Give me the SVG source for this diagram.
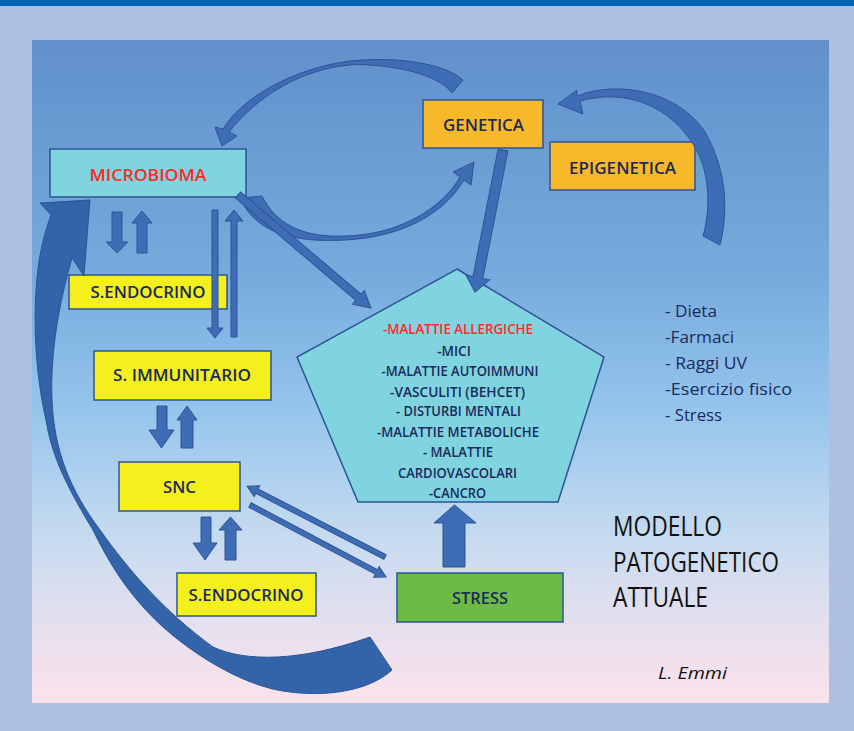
<svg xmlns="http://www.w3.org/2000/svg" width="854" height="731" viewBox="0 0 854 731">
<style>
.box{stroke:#2f5496;stroke-width:1.5}
.cyan{fill:#7fd4df}
.yel{fill:#f4f01e}
.org{fill:#f7b92a}
.grn{fill:#6cbb45}
.t{font-family:"Open Sans","Liberation Sans",sans-serif;fill:#1c2a5c;text-anchor:middle;font-weight:600}
.n{font-size:17px}
.p{font-size:13.5px}
.red{fill:#ff2a2a}
.arr{fill:#3e6db5;stroke:#2c5597;stroke-width:1}
.dark{fill:#3363a8}
.side{font-family:"Open Sans","Liberation Sans",sans-serif;fill:#1c2a5c;font-size:16.5px;font-weight:500}
.title{font-family:"Open Sans","Liberation Sans",sans-serif;fill:#111;font-size:27px}
</style>
<defs>
<linearGradient id="bg" x1="0" y1="0" x2="0" y2="1">
<stop offset="0" stop-color="#6190cb"/>
<stop offset="0.35" stop-color="#76aadc"/>
<stop offset="0.55" stop-color="#93c4ec"/>
<stop offset="0.75" stop-color="#c6dbf0"/>
<stop offset="0.9" stop-color="#e9e0ee"/>
<stop offset="1" stop-color="#fbe2ea"/>
</linearGradient>
</defs>
<rect x="0" y="0" width="854" height="731" fill="#adc0e4"/>
<rect x="0" y="0" width="854" height="6" fill="#0066b3"/>
<rect x="32" y="40" width="797" height="663" fill="url(#bg)"/>

<g id="microbioma"><rect class="box cyan" x="50" y="149" width="196" height="48"/><text class="t n red" x="148" y="181" textLength="117" lengthAdjust="spacingAndGlyphs">MICROBIOMA</text></g>
<g id="sendocrino1"><rect class="box yel" x="69" y="275" width="158" height="34"/><text class="t n" x="148" y="298" textLength="115" lengthAdjust="spacingAndGlyphs">S.ENDOCRINO</text></g>
<g id="simmunitario"><rect class="box yel" x="94" y="351" width="177" height="49"/><text class="t n" x="182" y="381" textLength="138" lengthAdjust="spacingAndGlyphs">S. IMMUNITARIO</text></g>
<g id="snc"><rect class="box yel" x="119" y="462" width="121" height="49"/><text class="t n" x="179.5" y="493" textLength="33" lengthAdjust="spacingAndGlyphs">SNC</text></g>
<g id="sendocrino2"><rect class="box yel" x="177" y="573" width="139" height="43"/><text class="t n" x="246" y="601" textLength="115" lengthAdjust="spacingAndGlyphs">S.ENDOCRINO</text></g>
<g id="genetica"><rect class="box org" x="423" y="100" width="120" height="48"/><text class="t n" x="483.5" y="131" textLength="81" lengthAdjust="spacingAndGlyphs">GENETICA</text></g>
<g id="epigenetica"><rect class="box org" x="550" y="142" width="145" height="48"/><text class="t n" x="622.5" y="174" textLength="107" lengthAdjust="spacingAndGlyphs">EPIGENETICA</text></g>
<g id="stress"><rect class="box grn" x="397" y="573" width="166" height="49"/><text class="t n" x="480" y="604" textLength="56" lengthAdjust="spacingAndGlyphs">STRESS</text></g>
<g id="malattie">
<polygon class="box cyan" points="457,269 604,357 558,502 358,502 297,357"/>
<text class="t p red" x="458" y="334" textLength="150" lengthAdjust="spacingAndGlyphs">-MALATTIE ALLERGICHE</text>
<text class="t p" x="454" y="356">-MICI</text>
<text class="t p" x="460" y="376" textLength="157" lengthAdjust="spacingAndGlyphs">-MALATTIE AUTOIMMUNI</text>
<text class="t p" x="457.5" y="397" textLength="135" lengthAdjust="spacingAndGlyphs">-VASCULITI  (BEHCET)</text>
<text class="t p" x="458.5" y="416" textLength="125" lengthAdjust="spacingAndGlyphs">- DISTURBI MENTALI</text>
<text class="t p" x="458" y="437" textLength="162" lengthAdjust="spacingAndGlyphs">-MALATTIE METABOLICHE</text>
<text class="t p" x="458" y="457" textLength="70" lengthAdjust="spacingAndGlyphs">- MALATTIE</text>
<text class="t p" x="457.5" y="478" textLength="119" lengthAdjust="spacingAndGlyphs">CARDIOVASCOLARI</text>
<text class="t p" x="457.5" y="498" textLength="57" lengthAdjust="spacingAndGlyphs">-CANCRO</text>
</g>
<g id="fattori">
<text class="side" x="665" y="317" textLength="52" lengthAdjust="spacingAndGlyphs">- Dieta</text>
<text class="side" x="665" y="343" textLength="69" lengthAdjust="spacingAndGlyphs">-Farmaci</text>
<text class="side" x="665" y="369" textLength="82" lengthAdjust="spacingAndGlyphs">- Raggi UV</text>
<text class="side" x="665" y="395" textLength="127" lengthAdjust="spacingAndGlyphs">-Esercizio  fisico</text>
<text class="side" x="665" y="421" textLength="57" lengthAdjust="spacingAndGlyphs">- Stress</text>
</g>
<g id="titolo">
<text class="title" x="613" y="536" textLength="109" lengthAdjust="spacingAndGlyphs">MODELLO</text>
<text class="title" x="613" y="572" textLength="166" lengthAdjust="spacingAndGlyphs">PATOGENETICO</text>
<text class="title" x="613" y="607" textLength="95" lengthAdjust="spacingAndGlyphs">ATTUALE</text>
<text x="658" y="679" font-family="'Open Sans','Liberation Sans',sans-serif" font-style="italic" font-size="17" fill="#111" textLength="69" lengthAdjust="spacingAndGlyphs">L.  Emmi</text>
</g>

<g id="connectors">
<path class="arr dark" d="M40,203 L90,200 L84,276 L72,258 C60,300 50,350 52,400 C54,450 70,490 100,530 C130,572 165,612 213,647 C245,662 300,662 370,637 L392,670 C370,690 330,697 290,692 C250,688 200,660 163,627 C130,597 110,565 93,530 C72,495 52,460 46,420 C38,385 33,340 36,290 C38,260 42,240 51,215 Z"/>
<path class="arr" d="M223,129 C240,100 290,69 350,61 C400,56 445,64 463,80 L452,93 C440,76 400,65 355,64.5 C300,68 256,98 229,132 L237,136 L222,146 L215,127 Z"/>
<path class="arr" d="M240,198 C255,232 292,243 345,240 C405,237 445,212 464,180 L471,185 L474,162 L453,172 L460,177 C443,207 400,235 345,236 C300,238 275,222 262,196 Z"/>
<path class="arr" d="M558,104 L577,90 L577,96 C620,79 680,93 705,132 C724,165 730,205 720,245 L703,236 C712,205 708,170 696,149 C672,106 626,88 580,101 L583,114 Z"/>
<path class="arr" d="M0,-4 H158 V-9 L174.5,0 L158,9 V4 H0 Z" transform="translate(238,195) rotate(40.35)"/>
<path class="arr" d="M0,-5 H130 V-12 L145,0 L130,12 V5 H0 Z" transform="translate(503,150) rotate(101.15)"/>
<path class="arr" d="M443,567 V523 H434 L454.5,505 L476,523 H465 V567 Z"/>
<path class="arr" d="M0,-2.5 H144 V-6 L155,0 L144,6 V2.5 H0 Z" transform="translate(385,557) rotate(207.2)"/>
<path class="arr" d="M0,-2.5 H143 V-6 L154,0 L143,6 V2.5 H0 Z" transform="translate(250,505) rotate(27.9)"/>
<path class="arr" d="M112,212 H122 V242 H128 L117,253 L106,242 H112 Z"/>
<path class="arr" d="M137,253 H147 V223 H152 L142,211 L132,223 H137 Z"/>
<path class="arr" d="M212,210 H218 V328 H223 L215,338 L207,328 H212 Z"/>
<path class="arr" d="M231,337 H237 V221 H243 L234,210 L225,221 H231 Z"/>
<path class="arr" d="M157,406 H167 V430 H174 L161.5,448 L149,430 H157 Z"/>
<path class="arr" d="M181,448 H193 V420 H197 L187,406 L177,420 H181 Z"/>
<path class="arr" d="M201,517 H211 V543 H217 L205,560 L193,543 H201 Z"/>
<path class="arr" d="M225,560 H236 V530 H242 L230.5,517 L219,530 H225 Z"/>
</g>
</svg>
